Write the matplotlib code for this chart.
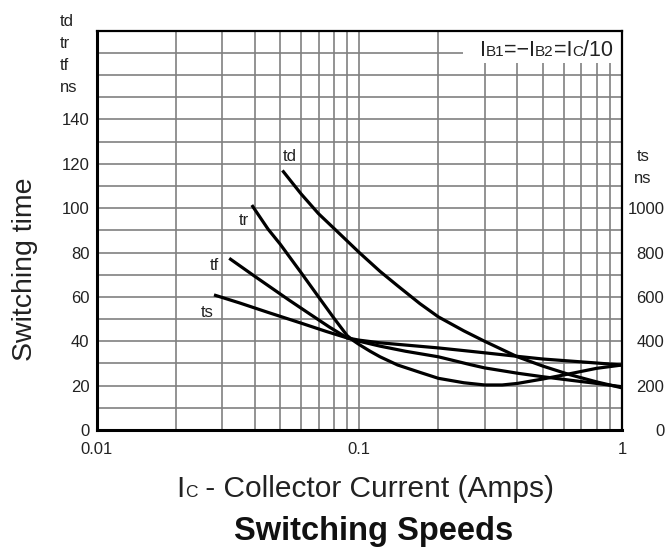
import matplotlib
matplotlib.use('Agg')
import matplotlib.pyplot as plt
import matplotlib.transforms as mtransforms
from matplotlib.patches import Rectangle

plt.rcParams['font.family'] = ['Liberation Sans', 'DejaVu Sans']

# curves (Ic in A, time in ns; ts on the x10 right scale)
td_x = [0.051, 0.06, 0.07, 0.085, 0.1, 0.12, 0.14, 0.17, 0.2, 0.25, 0.3, 0.4, 0.5, 0.63, 0.8, 1.0]
td_y = [117, 106.5, 97.5, 88, 80, 71.5, 65, 57, 51, 44.7, 40, 33, 28.8, 25, 21.7, 19]

tr_x = [0.039, 0.045, 0.05, 0.06, 0.07, 0.08, 0.09, 0.095, 0.1, 0.11, 0.12, 0.14, 0.17, 0.2,
        0.25, 0.3, 0.35, 0.4, 0.5, 0.6, 0.8, 1.0]
tr_y = [101.4, 90.5, 83.8, 71, 60, 50.5, 42.5, 40.3, 38.5, 35.5, 33, 29.3, 26, 23.3,
        21.3, 20.3, 20.3, 21, 23, 24.8, 27.8, 29.3]

tf_x = [0.032, 0.04, 0.054, 0.065, 0.077, 0.09, 0.1, 0.12, 0.15, 0.2, 0.264, 0.3, 0.4, 0.5, 0.63, 0.8, 1.0]
tf_y = [77.4, 69.3, 58.6, 52.2, 46.4, 41.5, 40, 37.8, 35.5, 33, 29.5, 28, 25.6, 24, 22.5, 21, 19.5]

ts_x = [0.028, 0.035, 0.045, 0.06, 0.075, 0.09, 0.1, 0.12, 0.15, 0.2, 0.264, 0.3, 0.4, 0.5, 0.6, 0.8, 1.0]
ts_y = [60.9, 57.3, 53, 48.2, 44.4, 41.5, 40.5, 39.3, 38.3, 37, 35.5, 34.8, 33.2, 32, 31.3, 30.2, 29.3]

left_ticks = [0, 20, 40, 60, 80, 100, 120, 140]
right_ticks = [0, 200, 400, 600, 800, 1000]
x_ticks = [0.01, 0.1, 1]
x_labels = ['0.01', '0.1', '1']


def rich_text(fig, x, y, parts, transform, ha='left', **kw):
    # pieces of different size on one baseline (small "B1", "C" letters)
    r = fig.canvas.get_renderer()
    texts, widths = [], []
    for s, size in parts:
        t = fig.text(x, y, s, fontsize=size, transform=transform, va='baseline', ha='left', **kw)
        texts.append(t)
        widths.append(t.get_window_extent(r).width)
    total = sum(widths)
    off = {'left': 0, 'center': -total / 2, 'right': -total}[ha]
    for t, w in zip(texts, widths):
        t.set_transform(mtransforms.offset_copy(transform, fig=fig, x=off, y=0, units='dots'))
        off += w
    return texts


fig = plt.figure(figsize=(6.67, 5.47), dpi=100)
ax = fig.add_axes([96.5 / 667, 1 - 430 / 547, 525.5 / 667, 399.3 / 547])

ax.set_xscale('log')
ax.set_xlim(0.01, 1)
ax.set_ylim(0, 180)
ax.set_xticks(x_ticks)
ax.set_xticklabels(x_labels)
ax.set_yticks(left_ticks)
ax.set_yticks(range(0, 181, 10), minor=True)
ax.tick_params(which='both', length=0, labelsize=12, colors='#222222')
ax.tick_params(axis='x', pad=8.5)
ax.tick_params(axis='y', pad=5)
ax.grid(True, which='both', color='#808080', lw=1.2)

for s in ['left', 'bottom']:
    ax.spines[s].set_linewidth(2.2)
for s in ['top', 'right']:
    ax.spines[s].set_linewidth(1.6)

line_kw = dict(color='black', lw=2.3, solid_capstyle='butt', solid_joinstyle='round', zorder=3)
ax.plot(td_x, td_y, **line_kw)
ax.plot(tr_x, tr_y, **line_kw)
ax.plot(tf_x, tf_y, **line_kw)
ax.plot(ts_x, ts_y, **line_kw)

lab_kw = dict(fontsize=12, ha='center', va='baseline', color='#222222')
ax.text(0.0545, 121.4, 'td', **lab_kw)
ax.text(0.0365, 92.4, 'tr', **lab_kw)
ax.text(0.0282, 72.1, 'tf', **lab_kw)
ax.text(0.0263, 51.1, 'ts', **lab_kw)

# unit labels above the left scale
trans = mtransforms.blended_transform_factory(ax.transAxes, ax.transData)
for s, yv in zip(['td', 'tr', 'tf', 'ns'], [182, 172, 162.3, 152.5]):
    ax.text(-0.0695, yv, s, transform=trans, fontsize=12, ha='left', va='baseline',
            color='#222222', clip_on=False)
for s, yv in zip(['ts', 'ns'], [121.4, 111.5]):
    ax.text(1.04, yv, s, transform=trans, fontsize=12, ha='center', va='baseline',
            color='#222222', clip_on=False)

# right scale for ts
ax2 = ax.twinx()
ax2.set_ylim(0, 1800)
ax2.set_yticks(right_ticks)
ax2.tick_params(length=0, labelsize=12, colors='#222222', pad=30.5)
for lab in ax2.get_yticklabels():
    lab.set_horizontalalignment('right')
for s in ax2.spines.values():
    s.set_visible(False)

# condition box in the top right corner
ax.add_patch(Rectangle((0.6974, 0.919), 0.3, 0.081, transform=ax.transAxes,
                       facecolor='white', edgecolor='none', zorder=1.8))
rich_text(fig, 0.9835, 168.6,
          [('I', 15.5), ('B1', 11), ('=\u2212I', 15.5), ('B2', 11), ('=I', 15.5), ('C', 11), ('/10', 15.5)],
          trans, ha='right', color='#222222')

fig.text(25 / 667, 1 - 269.5 / 547, 'Switching time', rotation=90, ha='center', va='center',
         fontsize=20.5, color='#222222')
rich_text(fig, 176.7 / 667, 1 - 496.7 / 547,
          [('I', 21.5), ('C', 12.5), (' - Collector Current (Amps)', 21.5)],
          fig.transFigure, color='#222222')
fig.text(374 / 667, 1 - 531.7 / 547, 'Switching Speeds', ha='center', va='center',
         fontsize=23.5, fontweight='bold', color='#111111')

fig.savefig('out.png', dpi=100)
